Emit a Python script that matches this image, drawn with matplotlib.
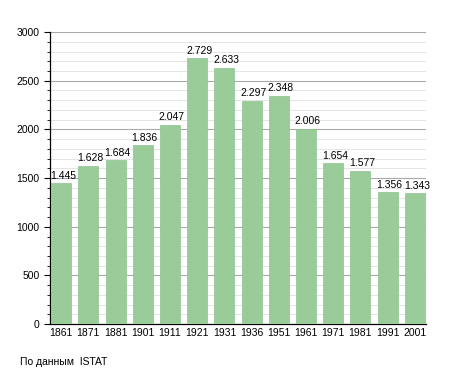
import matplotlib.pyplot as plt
from matplotlib.ticker import MultipleLocator

# census years and population
years = ['1861', '1871', '1881', '1901', '1911', '1921', '1931',
         '1936', '1951', '1961', '1971', '1981', '1991', '2001']
population = [1445, 1628, 1684, 1836, 2047, 2729, 2633,
              2297, 2348, 2006, 1654, 1577, 1356, 1343]

plt.rcParams['font.family'] = ['Liberation Sans', 'DejaVu Sans']

fig = plt.figure(figsize=(4.55, 3.73), dpi=100)
ax = fig.add_axes([50 / 455, 0.131, 376 / 455, 0.783])

x = range(len(years))
ax.bar(x, population, width=0.735, color='#99cc99', edgecolor='#8fc18f',
       linewidth=0.5, zorder=3)

for i, v in enumerate(population):
    label = f'{v:,}'.replace(',', '.')
    ax.text(i + 0.07, v + 25, label, ha='center', va='bottom', fontsize=7.5, zorder=4)

ax.set_xlim(-0.41, len(years) - 0.59)
ax.set_ylim(0, 3000)
ax.set_xticks(list(x))
ax.set_xticklabels(years, fontsize=7.5)
ax.yaxis.set_major_locator(MultipleLocator(500))
ax.yaxis.set_minor_locator(MultipleLocator(100))
ax.tick_params(axis='y', labelsize=7.5, length=4, width=0.8)
ax.tick_params(axis='y', which='minor', length=2, width=0.6)
ax.tick_params(axis='x', length=0, pad=3)

ax.grid(axis='y', which='major', color='#aaaaaa', linewidth=0.8, zorder=0)
ax.grid(axis='y', which='minor', color='#e0e0e0', linewidth=0.6, zorder=0)

for side in ['top', 'right']:
    ax.spines[side].set_visible(False)
ax.spines['left'].set_linewidth(0.9)
ax.spines['bottom'].set_linewidth(0.9)

fig.text(20 / 455, 1 - 362 / 373, 'По данным  ISTAT', fontsize=7.5, va='center')

fig.savefig('out.png', dpi=100)
